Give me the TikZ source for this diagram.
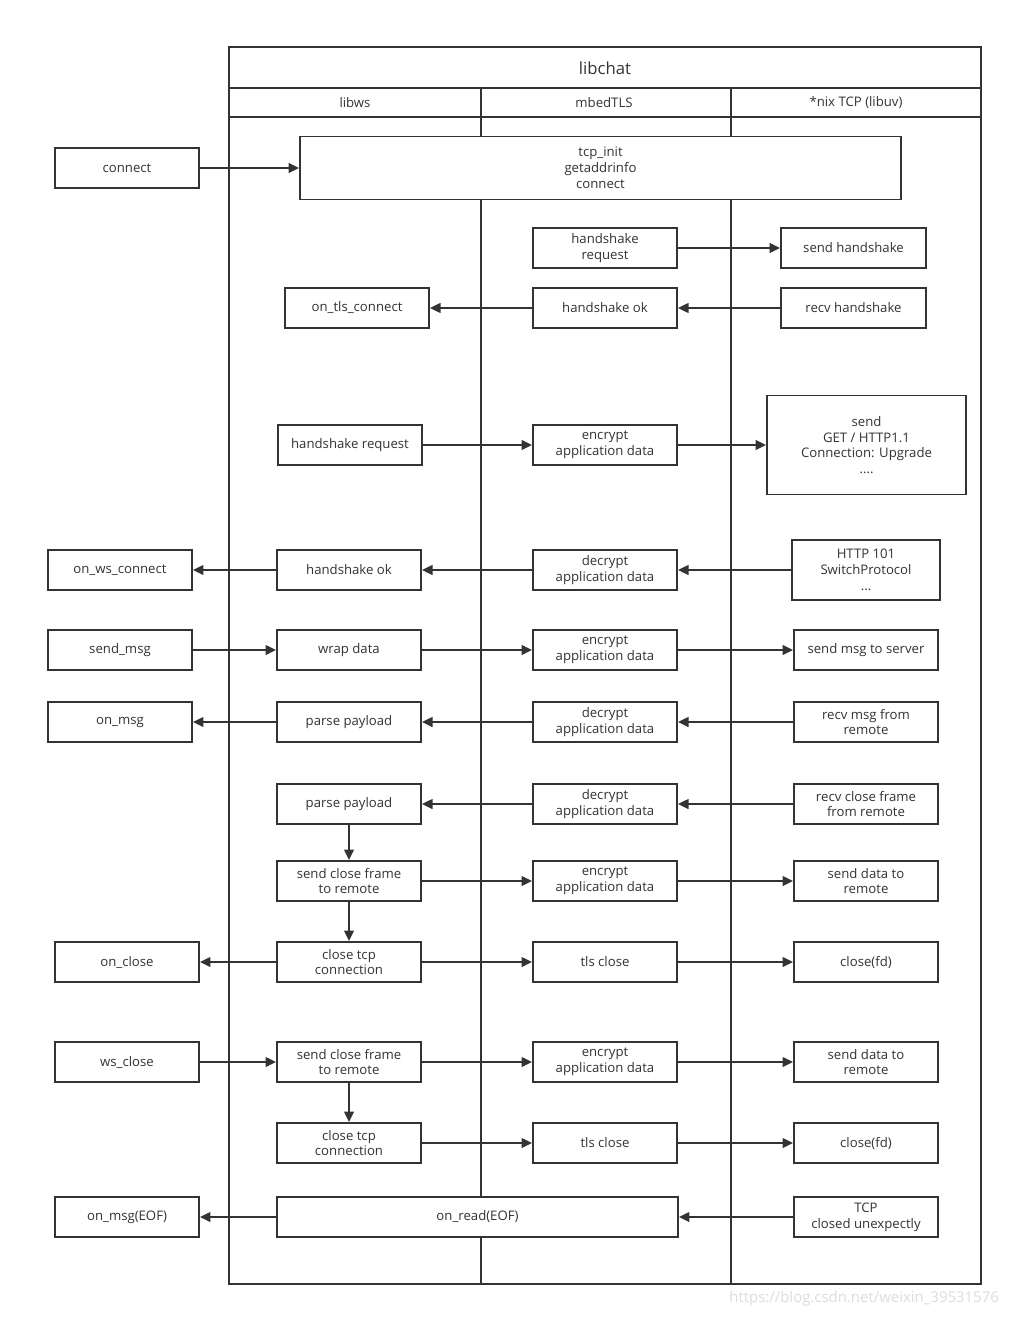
\documentclass[tikz,border=0pt]{standalone}
\usepackage{fontspec}
\setmainfont{Open Sans}
\usepackage{tikz}
\usetikzlibrary{arrows.meta}
\definecolor{cline}{HTML}{333333}
\definecolor{cmark}{HTML}{DCDCDC}

\begin{document}
\begin{tikzpicture}[x=0.02cm,y=-0.02cm,
  >={Triangle[length=6pt,width=5.5pt]},
  every node/.style={font=\fontsize{7.5}{9}\selectfont,text=cline},
  box/.style={draw=cline,line width=1.1pt,fill=white,align=center,inner sep=1pt,
    minimum width=2.88cm,minimum height=0.8cm},
  flow/.style={->,draw=cline,line width=1.1pt}]
  \useasboundingbox (0,0) rectangle (1013,1317);
  % lanes
  \draw[cline,line width=1.1pt] (229,47) rectangle (981,1284);
  \draw[cline,line width=1.1pt] (229,88) -- (981,88) (229,117) -- (981,117);
  \foreach \x in {481,731} \draw[cline,line width=0.9pt] (\x,88) -- (\x,1284);
  \node[font=\fontsize{9.5}{11}\selectfont] (title) at (605,68) {libchat};
  \node (hws) at (355,103) {libws};
  \node (htls) at (604,103) {mbedTLS};
  \node (htcp) at (856,103) {*nix TCP (libuv)};

  % connect
  \node[box] (connect) at (127,168) {connect};
  \node[box,minimum width=12.02cm,minimum height=1.26cm] (tcpinit) at (600.5,168) {tcp\_init\\getaddrinfo\\connect};
  \draw[flow] (connect) -- (tcpinit);

  % tls handshake
  \node[box] (hsreq) at (605,248) {handshake\\request};
  \node[box,minimum width=2.9cm] (sendhs) at (853.5,248) {send handshake};
  \node[box] (hsok) at (605,308) {handshake ok};
  \node[box,minimum width=2.9cm] (recvhs) at (853.5,308) {recv handshake};
  \node[box] (tlsconn) at (357,308) {on\_tls\_connect};
  \draw[flow] (hsreq) -- (sendhs);
  \draw[flow] (recvhs) -- (hsok);
  \draw[flow] (hsok) -- (tlsconn);

  % ws handshake
  \node[box] (wsreq) at (350,445) {handshake request};
  \node[box] (enca) at (605,445) {encrypt\\application data};
  \node[box,minimum width=3.98cm,minimum height=1.98cm] (getreq) at (866.5,445) {send\\GET / HTTP1.1\\Connection: Upgrade\\....};
  \draw[flow] (wsreq) -- (enca);
  \draw[flow] (enca) -- (getreq);
  \node[box] (wsconn) at (120,570) {on\_ws\_connect};
  \node[box] (wsok) at (349,570) {handshake ok};
  \node[box] (deca) at (605,570) {decrypt\\application data};
  \node[box,minimum width=2.96cm,minimum height=1.2cm] (http) at (866,570) {HTTP 101\\SwitchProtocol\\...};
  \draw[flow] (http) -- (deca);
  \draw[flow] (deca) -- (wsok);
  \draw[flow] (wsok) -- (wsconn);

  % messages
  \node[box] (sendmsg) at (120,650) {send\_msg};
  \node[box] (wrap) at (349,650) {wrap data};
  \node[box] (encb) at (605,650) {encrypt\\application data};
  \node[box] (tosrv) at (866,650) {send msg to server};
  \draw[flow] (sendmsg) -- (wrap);
  \draw[flow] (wrap) -- (encb);
  \draw[flow] (encb) -- (tosrv);
  \node[box] (onmsg) at (120,722) {on\_msg};
  \node[box] (parsea) at (349,722) {parse payload};
  \node[box] (decb) at (605,722) {decrypt\\application data};
  \node[box] (fromrem) at (866,722) {recv msg from\\remote};
  \draw[flow] (fromrem) -- (decb);
  \draw[flow] (decb) -- (parsea);
  \draw[flow] (parsea) -- (onmsg);

  % remote close
  \node[box] (parseb) at (349,804) {parse payload};
  \node[box] (decc) at (605,804) {decrypt\\application data};
  \node[box] (clsframe) at (866,804) {recv close frame\\from remote};
  \draw[flow] (clsframe) -- (decc);
  \draw[flow] (decc) -- (parseb);
  \node[box] (scfa) at (349,881) {send close frame\\to remote};
  \node[box] (encc) at (605,881) {encrypt\\application data};
  \node[box] (sdataa) at (866,881) {send data to\\remote};
  \draw[flow] (parseb) -- (scfa);
  \draw[flow] (scfa) -- (encc);
  \draw[flow] (encc) -- (sdataa);
  \node[box] (onclose) at (127,962) {on\_close};
  \node[box] (ctcpa) at (349,962) {close tcp\\connection};
  \node[box] (tlsa) at (605,962) {tls close};
  \node[box] (cfda) at (866,962) {close(fd)};
  \draw[flow] (scfa) -- (ctcpa);
  \draw[flow] (ctcpa) -- (onclose);
  \draw[flow] (ctcpa) -- (tlsa);
  \draw[flow] (tlsa) -- (cfda);

  % local close
  \node[box] (wsclose) at (127,1062) {ws\_close};
  \node[box] (scfb) at (349,1062) {send close frame\\to remote};
  \node[box] (encd) at (605,1062) {encrypt\\application data};
  \node[box] (sdatab) at (866,1062) {send data to\\remote};
  \draw[flow] (wsclose) -- (scfb);
  \draw[flow] (scfb) -- (encd);
  \draw[flow] (encd) -- (sdatab);
  \node[box] (ctcpb) at (349,1143) {close tcp\\connection};
  \node[box] (tlsb) at (605,1143) {tls close};
  \node[box] (cfdb) at (866,1143) {close(fd)};
  \draw[flow] (scfb) -- (ctcpb);
  \draw[flow] (ctcpb) -- (tlsb);
  \draw[flow] (tlsb) -- (cfdb);

  % eof
  \node[box] (oneof) at (127,1217) {on\_msg(EOF)};
  \node[box,minimum width=8.02cm] (onread) at (477.5,1217) {on\_read(EOF)};
  \node[box] (tcpgone) at (866,1217) {TCP\\closed unexpectly};
  \draw[flow] (tcpgone) -- (onread);
  \draw[flow] (onread) -- (oneof);

  \node[anchor=east,text=cmark,font=\fontsize{8.5}{10}\selectfont] (mark) at (1005,1299) {https://blog.csdn.net/weixin\_39531576};
\end{tikzpicture}
\end{document}
